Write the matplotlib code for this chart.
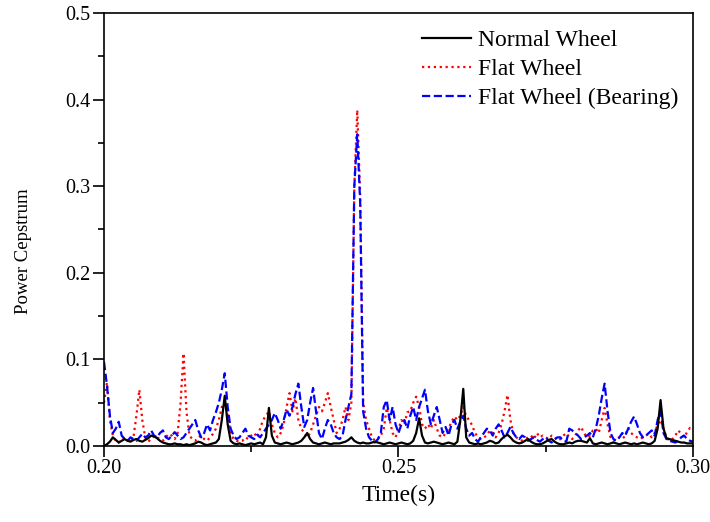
import numpy as np
import matplotlib
matplotlib.use("Agg")
import matplotlib.pyplot as plt
from matplotlib.ticker import MultipleLocator, FormatStrFormatter

# sampling grid of the cepstrum (quefrency axis), 0.5 ms step
time = np.round(np.arange(0.2, 0.30025, 0.0005), 4)

normal_wheel = [
	0.000, 0.002, 0.005, 0.010, 0.007, 0.004, 0.006, 0.008, 0.006, 0.005,
	0.007, 0.008, 0.006, 0.005, 0.007, 0.009, 0.012, 0.011, 0.009, 0.006,
	0.004, 0.003, 0.002, 0.002, 0.003, 0.002, 0.002, 0.001, 0.002, 0.001,
	0.002, 0.003, 0.005, 0.004, 0.002, 0.001, 0.002, 0.003, 0.004, 0.008,
	0.030, 0.058, 0.025, 0.006, 0.003, 0.002, 0.003, 0.002, 0.001, 0.002,
	0.003, 0.002, 0.003, 0.004, 0.002, 0.010, 0.044, 0.012, 0.004, 0.003,
	0.002, 0.003, 0.004, 0.003, 0.002, 0.003, 0.004, 0.006, 0.010, 0.015,
	0.008, 0.004, 0.003, 0.002, 0.003, 0.004, 0.003, 0.002, 0.003, 0.003,
	0.003, 0.004, 0.005, 0.007, 0.010, 0.006, 0.004, 0.003, 0.004, 0.003,
	0.003, 0.004, 0.005, 0.004, 0.003, 0.002, 0.003, 0.004, 0.003, 0.002,
	0.003, 0.004, 0.003, 0.002, 0.003, 0.006, 0.015, 0.032, 0.012, 0.004,
	0.003, 0.004, 0.005, 0.004, 0.003, 0.002, 0.003, 0.004, 0.003, 0.002,
	0.005, 0.030, 0.066, 0.010, 0.004, 0.003, 0.002, 0.003, 0.002, 0.003,
	0.004, 0.006, 0.005, 0.003, 0.004, 0.008, 0.011, 0.013, 0.010, 0.006,
	0.004, 0.003, 0.004, 0.006, 0.008, 0.005, 0.003, 0.002, 0.002, 0.003,
	0.005, 0.007, 0.008, 0.005, 0.003, 0.002, 0.002, 0.003, 0.004, 0.003,
	0.005, 0.006, 0.006, 0.005, 0.004, 0.009, 0.003, 0.002, 0.003, 0.004,
	0.003, 0.002, 0.003, 0.004, 0.003, 0.002, 0.003, 0.004, 0.003, 0.002,
	0.003, 0.002, 0.003, 0.004, 0.003, 0.002, 0.003, 0.006, 0.020, 0.053,
	0.020, 0.009, 0.008, 0.007, 0.006, 0.005, 0.004, 0.004, 0.003, 0.003,
	0.003,
]

flat_wheel = [
	0.050, 0.073, 0.030, 0.012, 0.006, 0.004, 0.008, 0.010, 0.007, 0.004,
	0.010, 0.035, 0.065, 0.030, 0.010, 0.005, 0.008, 0.012, 0.010, 0.008,
	0.006, 0.010, 0.014, 0.012, 0.008, 0.015, 0.050, 0.107, 0.040, 0.012,
	0.008, 0.006, 0.010, 0.012, 0.008, 0.006, 0.010, 0.014, 0.020, 0.030,
	0.045, 0.050, 0.035, 0.015, 0.008, 0.006, 0.005, 0.006, 0.010, 0.008,
	0.012, 0.015, 0.010, 0.020, 0.030, 0.035, 0.040, 0.025, 0.015, 0.010,
	0.015, 0.025, 0.045, 0.061, 0.040, 0.055, 0.030, 0.020, 0.015, 0.010,
	0.015, 0.025, 0.035, 0.045, 0.040, 0.050, 0.061, 0.045, 0.030, 0.015,
	0.020, 0.030, 0.045, 0.030, 0.050, 0.300, 0.388, 0.290, 0.050, 0.030,
	0.020, 0.010, 0.006, 0.008, 0.012, 0.020, 0.044, 0.030, 0.015, 0.010,
	0.020, 0.030, 0.025, 0.039, 0.040, 0.050, 0.057, 0.045, 0.025, 0.020,
	0.025, 0.020, 0.030, 0.020, 0.012, 0.010, 0.015, 0.020, 0.028, 0.034,
	0.030, 0.035, 0.045, 0.034, 0.030, 0.024, 0.015, 0.010, 0.008, 0.010,
	0.012, 0.018, 0.015, 0.010, 0.015, 0.025, 0.040, 0.059, 0.030, 0.015,
	0.010, 0.008, 0.006, 0.008, 0.010, 0.012, 0.008, 0.015, 0.010, 0.012,
	0.010, 0.008, 0.012, 0.010, 0.006, 0.008, 0.012, 0.015, 0.010, 0.008,
	0.012, 0.018, 0.022, 0.015, 0.010, 0.012, 0.018, 0.020, 0.015, 0.030,
	0.044, 0.025, 0.010, 0.006, 0.008, 0.010, 0.008, 0.012, 0.021, 0.015,
	0.012, 0.010, 0.008, 0.010, 0.012, 0.014, 0.010, 0.015, 0.025, 0.030,
	0.020, 0.010, 0.006, 0.008, 0.012, 0.018, 0.014, 0.010, 0.016, 0.021,
	0.018,
]

flat_wheel_bearing = [
	0.097, 0.070, 0.035, 0.015, 0.020, 0.028, 0.012, 0.008, 0.006, 0.010,
	0.008, 0.006, 0.010, 0.014, 0.010, 0.012, 0.018, 0.012, 0.010, 0.015,
	0.018, 0.010, 0.008, 0.012, 0.016, 0.012, 0.008, 0.010, 0.015, 0.020,
	0.025, 0.030, 0.018, 0.010, 0.015, 0.025, 0.018, 0.030, 0.039, 0.050,
	0.065, 0.084, 0.045, 0.020, 0.012, 0.008, 0.010, 0.015, 0.020, 0.012,
	0.010, 0.008, 0.013, 0.010, 0.015, 0.020, 0.025, 0.030, 0.038, 0.030,
	0.020, 0.030, 0.042, 0.035, 0.045, 0.060, 0.072, 0.045, 0.022, 0.030,
	0.050, 0.067, 0.040, 0.015, 0.008, 0.020, 0.030, 0.025, 0.015, 0.010,
	0.008, 0.012, 0.030, 0.045, 0.060, 0.300, 0.360, 0.280, 0.040, 0.020,
	0.010, 0.006, 0.004, 0.008, 0.015, 0.045, 0.053, 0.030, 0.045, 0.025,
	0.015, 0.025, 0.030, 0.020, 0.035, 0.045, 0.030, 0.045, 0.055, 0.065,
	0.040, 0.025, 0.035, 0.045, 0.030, 0.015, 0.022, 0.012, 0.025, 0.030,
	0.020, 0.028, 0.035, 0.020, 0.012, 0.015, 0.008, 0.005, 0.010, 0.015,
	0.020, 0.018, 0.012, 0.020, 0.025, 0.018, 0.010, 0.015, 0.022, 0.015,
	0.010, 0.008, 0.012, 0.010, 0.006, 0.008, 0.010, 0.007, 0.005, 0.008,
	0.010, 0.006, 0.004, 0.008, 0.010, 0.010, 0.006, 0.005, 0.020, 0.018,
	0.015, 0.012, 0.008, 0.010, 0.012, 0.015, 0.010, 0.020, 0.035, 0.055,
	0.072, 0.040, 0.015, 0.008, 0.006, 0.010, 0.015, 0.012, 0.020, 0.028,
	0.034, 0.025, 0.015, 0.010, 0.012, 0.015, 0.018, 0.012, 0.030, 0.040,
	0.015, 0.008, 0.006, 0.005, 0.004, 0.006, 0.010, 0.012, 0.008, 0.006,
	0.005,
]

plt.rcParams["font.family"] = ["Liberation Serif", "DejaVu Serif"]

fig = plt.figure(figsize=(7.1, 5.22), dpi=100)
ax = fig.add_axes([0.1465, 0.1456, 0.8295, 0.8295])

red_line, = ax.plot(time, flat_wheel, color="#ff0000", linestyle=":", linewidth=1.6, label="Flat Wheel")
blue_line, = ax.plot(time, flat_wheel_bearing, color="#0000ff", linestyle="--", linewidth=1.6, label="Flat Wheel (Bearing)")
black_line, = ax.plot(time, normal_wheel, color="black", linestyle="-", linewidth=1.6, label="Normal Wheel")

ax.set_xlim(0.2, 0.3)
ax.set_ylim(0.0, 0.5)
ax.xaxis.set_major_locator(MultipleLocator(0.05))
ax.xaxis.set_minor_locator(MultipleLocator(0.025))
ax.yaxis.set_major_locator(MultipleLocator(0.1))
ax.yaxis.set_minor_locator(MultipleLocator(0.05))
ax.xaxis.set_major_formatter(FormatStrFormatter("%.2f"))
ax.yaxis.set_major_formatter(FormatStrFormatter("%.1f"))
ax.tick_params(which="both", direction="out", top=False, right=False, width=1.2, labelsize=14.5, pad=1.5)
ax.tick_params(which="major", length=8)
ax.tick_params(which="minor", length=4.5)
for spine in ax.spines.values():
	spine.set_linewidth(1.2)

ax.set_xlabel("Time(s)", fontsize=17)
ax.set_ylabel("Power Cepstrum", fontsize=13.5)
ax.xaxis.set_label_coords(0.5, -0.09)
ax.yaxis.set_label_coords(-0.122, 0.45)

ax.legend(handles=[black_line, red_line, blue_line], loc="upper right", frameon=False,
	fontsize=17, handlelength=2.1, handletextpad=0.3, labelspacing=0.32,
	borderaxespad=0.2, bbox_to_anchor=(1.0, 0.995))

fig.savefig("out.png", dpi=100)
